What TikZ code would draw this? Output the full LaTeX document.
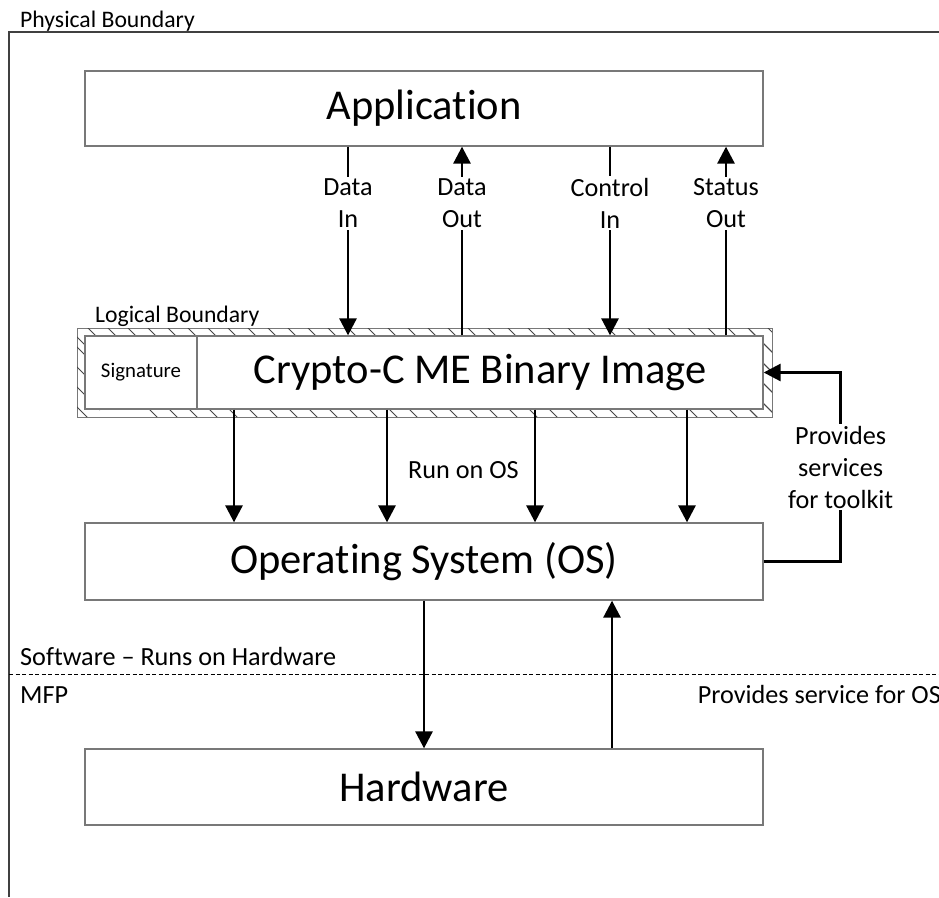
\documentclass[tikz,border=0pt]{standalone}
\usepackage{fontspec}
\setmainfont{Carlito}[Ligatures=NoCommon]
\usetikzlibrary{arrows.meta,calc}
\definecolor{boxgray}{RGB}{120,120,120}
\definecolor{hatchgray}{RGB}{70,70,70}
\begin{document}
\begin{tikzpicture}[x=1pt,y=-1pt,
  box/.style={draw=boxgray, line width=1.3pt, inner sep=0pt},
  big/.style={font=\fontsize{42.5}{50}\selectfont},
  lbl/.style={font=\fontsize{26.2}{32}\selectfont, align=center, inner sep=2pt},
  bnd/.style={font=\fontsize{23.7}{28}\selectfont, inner sep=0pt},
  arr/.style={line width=2.8pt, -{Triangle[length=17pt,width=17pt]}}
]
\useasboundingbox (0,0) rectangle (939,897);

% physical boundary
\coordinate (pbr) at (939,32);
\coordinate (pbc) at (9,32);
\coordinate (pbb) at (9,897);
\draw[line width=1.3pt, draw=black!75] (pbr) -- (pbc) -- (pbb);
\node[bnd, anchor=base west] (pblabel) at (20,27) {Physical Boundary};

% boxes
\node[box, big, minimum width=678pt, minimum height=75pt] (app) at (424,108.5) {Application};

\node[draw=boxgray, line width=1pt, minimum width=695pt, minimum height=89pt, inner sep=0pt] (lb) at (424.5,372.5) {};
\begin{scope}[even odd rule]
  \clip (77,328) rectangle (772,417) (85,336) rectangle (763,409);
  \foreach \i in {0,...,45} {
    \draw[hatchgray, line width=1pt] ({40+\i*20},300) -- ++(130,130);
  }
  \foreach \i in {0,...,6} {
    \draw[hatchgray, line width=1pt] (60,{330+\i*20}) -- ++(40,40);
    \draw[hatchgray, line width=1pt] (750,{330+\i*20}) -- ++(40,40);
  }
\end{scope}
\node[box, minimum width=112pt, minimum height=73pt, font=\fontsize{20.8}{24}\selectfont] (sig) at (141,372.5) {Signature};
\node[box, big, minimum width=566pt, minimum height=73pt] (cme) at (480,372.5) {Crypto-C ME Binary Image};
\node[bnd, anchor=base west] (lblabel) at (95,322) {Logical Boundary};

\node[box, big, minimum width=678pt, minimum height=77pt] (os) at (424,561.5) {Operating System (OS)};
\node[box, big, minimum width=678pt, minimum height=76pt] (hw) at (424,787) {Hardware};

% x positions
\coordinate (xa) at (348,0);
\coordinate (xb) at (462,0);
\coordinate (xc) at (610,0);
\coordinate (xd) at (726,0);
\coordinate (xe) at (234,0);
\coordinate (xf) at (387,0);
\coordinate (xg) at (535,0);
\coordinate (xh) at (687,0);
\coordinate (xu) at (612,0);

% application <-> crypto
\draw[arr] (app.south -| xa) -- node[lbl, fill=white, pos=0.3] (din) {Data\\In} (cme.north -| xa);
\draw[arr] (cme.north -| xb) -- node[lbl, fill=white, pos=0.7] (dout) {Data\\Out} (app.south -| xb);
\draw[arr] (app.south -| xc) -- node[lbl, fill=white, pos=0.3] (cin) {Control\\In} (cme.north -| xc);
\draw[arr] (cme.north -| xd) -- node[lbl, fill=white, pos=0.7] (sout) {Status\\Out} (app.south -| xd);

% crypto -> OS
\draw[arr] (cme.south -| xe) -- (os.north -| xe);
\draw[arr] (cme.south -| xf) -- (os.north -| xf);
\draw[arr] (cme.south -| xg) -- (os.north -| xg);
\draw[arr] (cme.south -| xh) -- (os.north -| xh);
\node[lbl, inner sep=0pt, anchor=base west] (run) at (408,478) {Run on OS};

% OS services loop
\draw[arr] (os.east) -- ++(77,0) |- node[lbl, fill=white, pos=0.25] (prov) {Provides\\services\\for toolkit} (cme.east);

% OS <-> hardware
\draw[arr] (os.south) -- (hw.north);
\draw[arr] (hw.north -| xu) -- (os.south -| xu);

% software / hardware divider
\coordinate (dl) at (9,674);
\coordinate (dr) at (939,674);
\draw[line width=1pt, dash pattern=on 4pt off 2.5pt] (dl) -- (dr);
\node[lbl, inner sep=0pt, anchor=base west] (sw) at (20,665) {Software – Runs on Hardware};
\node[lbl, inner sep=0pt, anchor=base west] (mfp) at (20,703) {MFP};
\node[lbl, inner sep=0pt, anchor=base east] (psos) at (941,703) {Provides service for OS};
\end{tikzpicture}
\end{document}
